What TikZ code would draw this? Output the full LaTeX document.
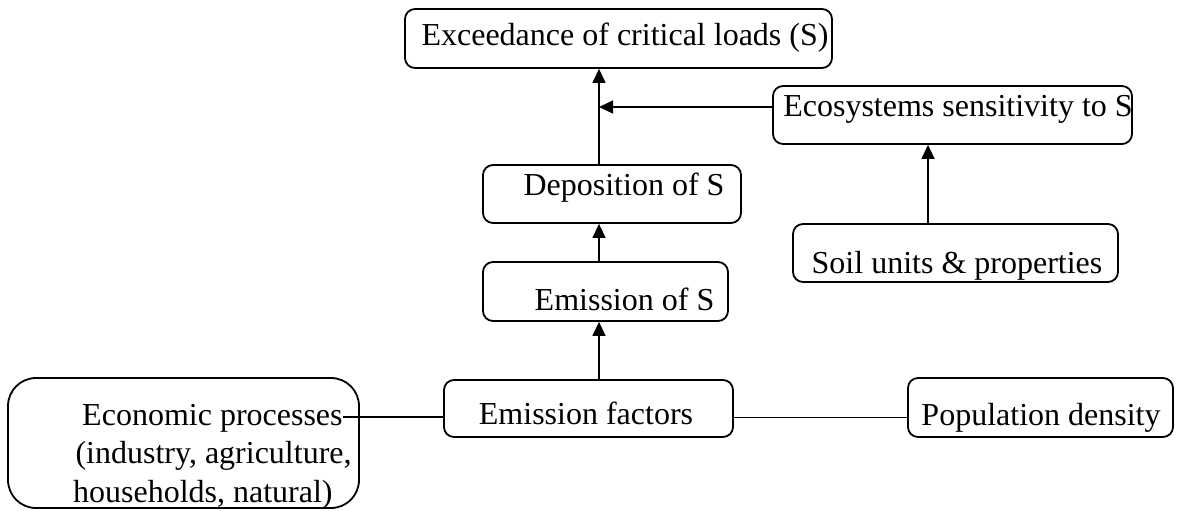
\documentclass[tikz,border=0pt]{standalone}
\usepackage{fontspec}
\setmainfont{Liberation Serif}
\usetikzlibrary{arrows.meta}
\begin{document}
\begin{tikzpicture}[x=0.5pt,y=-0.5pt,
  box/.style={draw, line width=0.9pt, rounded corners=5pt, inner sep=0pt},
  lbl/.style={font=\fontsize{16}{18}\selectfont, inner sep=0pt},
  link/.style={line width=0.7pt},
  arr/.style={link, -{Triangle[width=6.5pt,length=7pt]}}]
\useasboundingbox (0,0) rectangle (1177,510);

% boxes
\node[box, minimum width=213.5pt, minimum height=29.5pt] (exc) at (618.5,38.5) {};
\node[box, minimum width=179.5pt, minimum height=29pt]   (eco) at (952.5,115) {};
\node[box, minimum width=129pt,   minimum height=29pt]   (dep) at (612,194) {};
\node[box, minimum width=122.5pt, minimum height=29.5pt] (emi) at (605.5,291.5) {};
\node[box, minimum width=162.5pt, minimum height=29pt]   (soil) at (955.5,253) {};
\node[box, rounded corners=14pt, minimum width=175.5pt, minimum height=65pt] (econ) at (183.5,443) {};
\node[box, minimum width=144.5pt, minimum height=28.5pt] (fac) at (588.5,408.5) {};
\node[box, minimum width=132.5pt, minimum height=29.5pt] (pop) at (1040.5,407.5) {};

% labels
\node[lbl, anchor=base] (exct) at (625,45) {Exceedance of critical loads (S)};
\node[lbl, anchor=base] (ecot) at (958,116) {Ecosystems sensitivity to S};
\node[lbl, anchor=base] (dept) at (624,195) {Deposition of S};
\node[lbl, anchor=base] (emit) at (624.5,310) {Emission of S};
\node[lbl, anchor=base] (soilt) at (957,273) {Soil units \& properties};
\node[lbl, anchor=base] (fact) at (586,424) {Emission factors};
\node[lbl, anchor=base] (popt) at (1041,425) {Population density};
\node[lbl, anchor=base east] (econ1) at (343,425) {Economic processes};
\node[lbl, anchor=base east] (econ2) at (352,463) {(industry, agriculture,};
\node[lbl, anchor=base east] (econ3) at (333,502) {households, natural)};

% guide columns for the vertical connectors
\coordinate (spine) at (599,0);
\coordinate (ecox) at (928,0);

% connectors
\draw[arr] (fac.north -| spine) -- (emi.south -| spine);
\draw[arr] (emi.north -| spine) -- (dep.south -| spine);
\draw[arr] (dep.north -| spine) -- (exc.south -| spine);
\draw[arr] ([yshift=4pt]eco.west) -- ([yshift=4pt]eco.west -| spine);
\draw[arr] (soil.north -| ecox) -- (eco.south -| ecox);
\draw[link] ([yshift=4pt]econ1.base east) -- ([yshift=4pt]econ1.base east -| fac.west);
\draw[link] ([yshift=-4.5pt]fac.east) -- ([yshift=-4.5pt]fac.east -| pop.west);
\end{tikzpicture}
\end{document}
